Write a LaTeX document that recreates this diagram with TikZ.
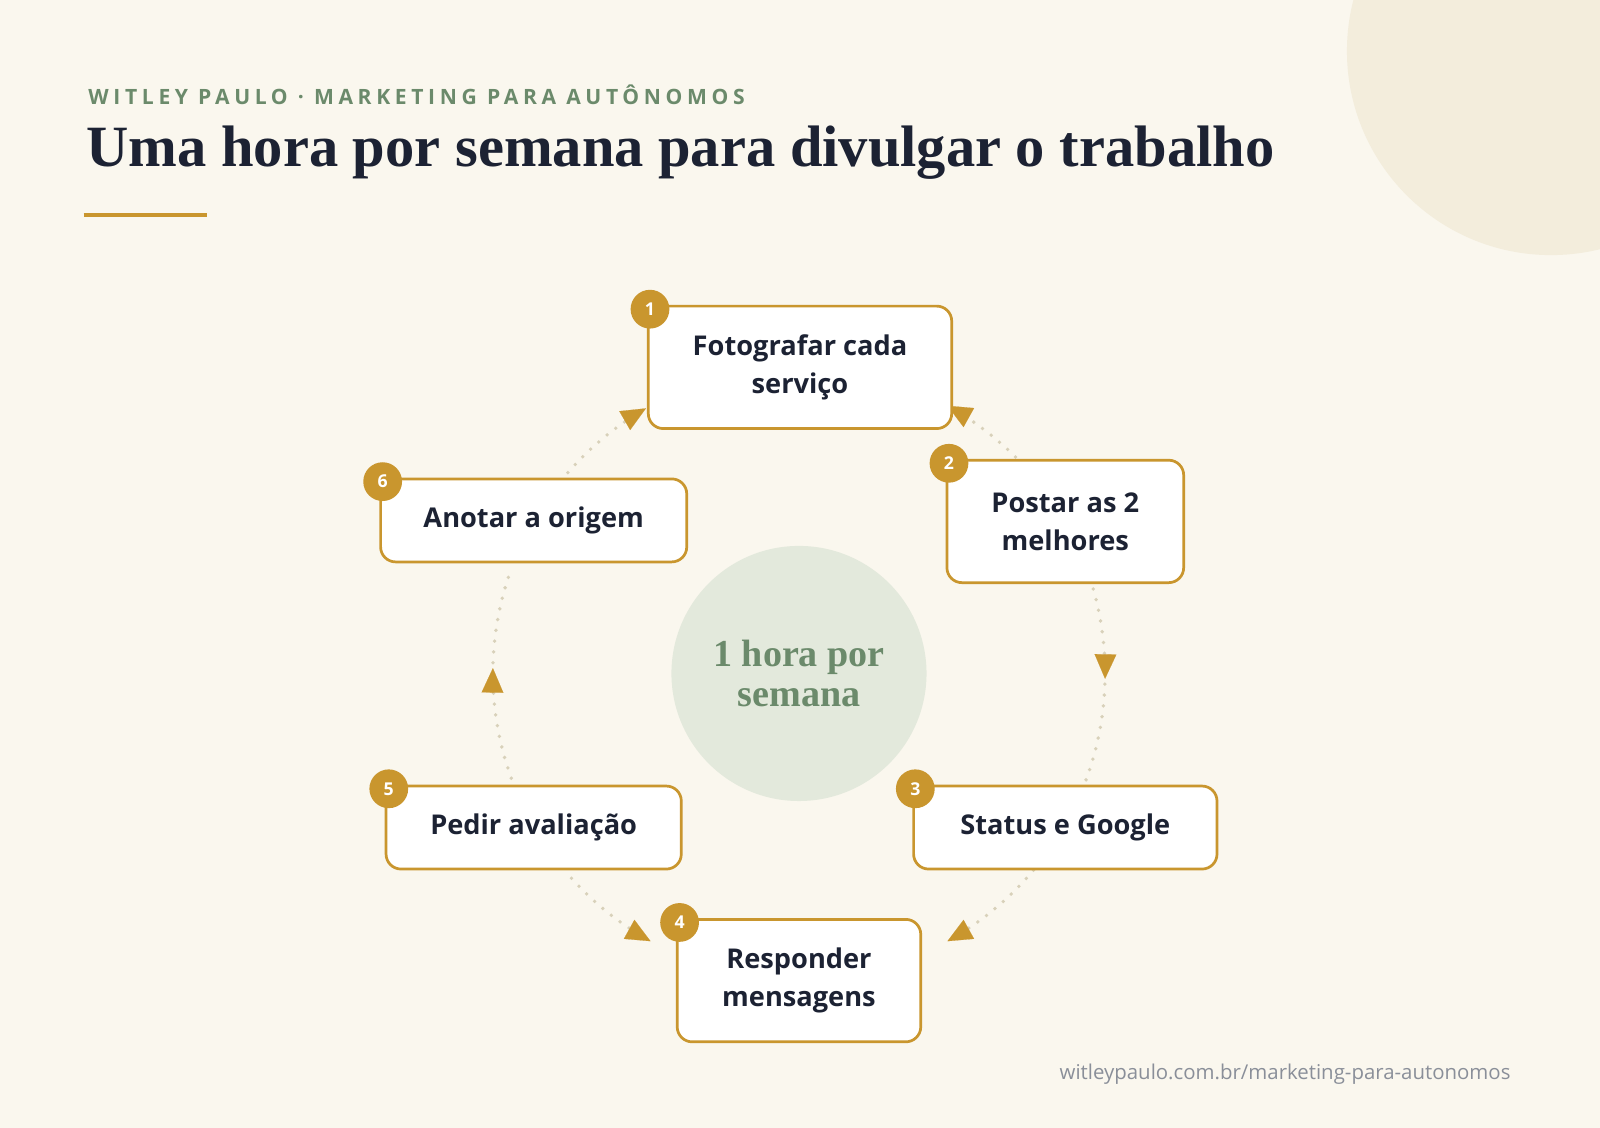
\documentclass[tikz,border=0pt]{standalone}
\usepackage{fontspec}
\setmainfont{Liberation Serif}
\setsansfont{Open Sans}
\usetikzlibrary{arrows.meta,calc}
\definecolor{bg}{HTML}{FAF7EE}
\definecolor{blob}{HTML}{F3EDDC}
\definecolor{sage}{HTML}{E3E9DC}
\definecolor{green}{HTML}{6B8A6B}
\definecolor{gold}{HTML}{C9962E}
\definecolor{ink}{HTML}{1C2233}
\definecolor{dotc}{HTML}{D8D1BA}
\definecolor{grey}{HTML}{8A8F99}
\begin{document}
\begin{tikzpicture}[x=0.75pt,y=0.75pt,
 box/.style={draw=gold,line width=2pt,fill=white,rounded corners=11pt,text=ink,font=\sffamily\bfseries\fontsize{20}{28}\selectfont,align=center,inner sep=0pt},
 badge/.style={circle,fill=gold,text=white,font=\sffamily\bfseries\fontsize{13}{13}\selectfont,minimum size=28.5pt,inner sep=0pt},
 cyc/.style={dotc,line width=2.8pt,line cap=round,dash pattern=on 0pt off 8pt},
 tip/.style={gold,line width=0.1pt,-{Triangle[length=18pt,width=16pt,fill=gold,color=gold]}}]
\fill[bg] (0,0) rectangle (1568,-1105);
\useasboundingbox (0,0) rectangle (1568,-1105);
\begin{scope}
\clip (0,0) rectangle (1568,-1105);
\fill[blob] (1520,-50) circle[radius=150pt];
\end{scope}
\node[anchor=west,text=green,font=\sffamily\bfseries\addfontfeatures{LetterSpace=22}\fontsize{15.5}{15}\selectfont] (hdr) at (82,-93) {WITLEY PAULO · MARKETING PARA AUTÔNOMOS};
\node[anchor=west,text=ink,font=\bfseries\fontsize{43}{43}\selectfont] (title) at (80,-150) {Uma hora por semana para divulgar o trabalho};
\draw[gold,line width=3pt] (82,-211) -- (203,-211);
\coordinate (c) at (783,-660);
\node[circle,fill=sage,minimum size=187.5pt,inner sep=0pt,text=green,font=\bfseries\fontsize{28}{30}\selectfont,align=center] (hub) at (c) {1 hora por\\semana};
% cycle arcs
\draw[cyc] ($(c)+(45:225pt)$) arc (45:57:225pt);
\draw[cyc] ($(c)+(16:225pt)$) arc (16:3:225pt);
\draw[cyc] ($(c)+(-2:225pt)$) arc (-2:-21:225pt);
\draw[cyc] ($(c)+(-40:225pt)$) arc (-40:-57:225pt);
\draw[cyc] ($(c)+(-138:225pt)$) arc (-138:-123:225pt);
\draw[cyc] ($(c)+(-160:225pt)$) arc (-160:-177:225pt);
\draw[cyc] ($(c)+(178:225pt)$) arc (178:160:225pt);
\draw[cyc] ($(c)+(139:225pt)$) arc (139:124:225pt);
\draw[tip] ($(c)+(58:225pt)$) arc (58:61:225pt);
\draw[tip] ($(c)+(2:225pt)$) arc (2:-1:225pt);
\draw[tip] ($(c)+(-58:225pt)$) arc (-58:-61:225pt);
\draw[tip] ($(c)+(-122:225pt)$) arc (-122:-119:225pt);
\draw[tip] ($(c)+(-178:225pt)$) arc (-178:-181:225pt);
\draw[tip] ($(c)+(123:225pt)$) arc (123:120:225pt);
% boxes
\node[box,minimum width=223pt,minimum height=90pt] (b1) at (784,-360) {Fotografar cada\\serviço};
\node[box,minimum width=174pt,minimum height=90pt] (b2) at (1044,-511) {Postar as 2\\melhores};
\node[box,minimum width=223pt,minimum height=61pt] (b3) at (1044,-811) {Status e Google};
\node[box,minimum width=179pt,minimum height=90pt] (b4) at (783,-961) {Responder\\mensagens};
\node[box,minimum width=217pt,minimum height=61pt] (b5) at (523,-811) {Pedir avaliação};
\node[box,minimum width=225pt,minimum height=61pt] (b6) at (523,-510) {Anotar a origem};
\node[badge] (n1) at (637,-303) {1};
\node[badge] (n2) at (930,-454) {2};
\node[badge] (n3) at (897,-773) {3};
\node[badge] (n4) at (666,-904) {4};
\node[badge] (n5) at (381,-773) {5};
\node[badge] (n6) at (375,-472) {6};
\node[anchor=east,text=grey,font=\sffamily\fontsize{15}{15}\selectfont] (url) at (1485,-1053) {witleypaulo.com.br/marketing-para-autonomos};
\end{tikzpicture}
\end{document}
